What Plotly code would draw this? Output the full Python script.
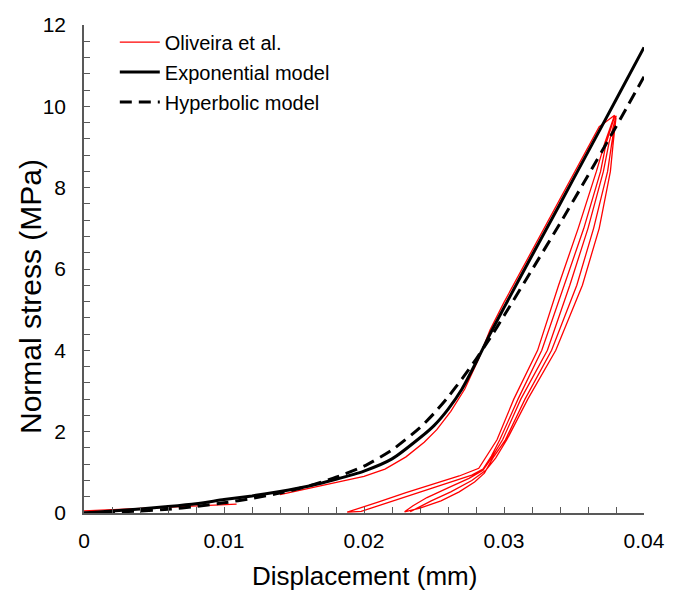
import plotly.graph_objects as go

# ---- data ----
d_model = [0, 0.002, 0.004, 0.006, 0.008, 0.010, 0.012, 0.014, 0.016, 0.018, 0.020, 0.022,
           0.024, 0.025, 0.026, 0.027, 0.028, 0.029, 0.030, 0.032, 0.034, 0.036, 0.038, 0.040]
exp_model = [0, 0.05, 0.10, 0.16, 0.23, 0.33, 0.42, 0.53, 0.66, 0.83, 1.03, 1.33,
             1.85, 2.15, 2.55, 3.05, 3.70, 4.40, 5.05, 6.33, 7.60, 8.88, 10.16, 11.45]
hyp_model = [0, 0.02, 0.05, 0.09, 0.16, 0.25, 0.36, 0.49, 0.66, 0.88, 1.15, 1.55,
             2.10, 2.45, 2.85, 3.30, 3.78, 4.30, 4.85, 5.98, 7.12, 8.30, 9.50, 10.73]

# Oliveira et al. experimental cyclic curve (None = gap in the record)
oliv_d = [0, 0.0109, None,
          # first loading
          0.0140, 0.0165, 0.0185, 0.0200, 0.0215, 0.0230, 0.0243, 0.0252, 0.0262, 0.0272,
          0.0282, 0.0290, 0.0300, 0.0320, 0.0340, 0.0360, 0.0368, 0.0374, 0.0379,
          # unloading 1
          0.0372, 0.0366, 0.0353, 0.0339, 0.0324, 0.0307, 0.0295, 0.0287, 0.0282,
          0.0268, 0.0250, 0.0230, 0.0210, 0.0195, 0.0188,
          # reloading 1
          0.0198, 0.0220, 0.0245, 0.0265, 0.0277, 0.0285, 0.0291, 0.0297, 0.0310, 0.0327,
          0.0343, 0.0357, 0.0369, 0.0373, 0.0379,
          # unloading 2
          0.0380, 0.0375, 0.0371, 0.0360, 0.0347, 0.0331, 0.0312, 0.0299, 0.0291, 0.0285,
          0.0275, 0.0260, 0.0245, 0.0235, 0.0229,
          # reloading 2
          0.0240, 0.0255, 0.0268, 0.0279, 0.0286, 0.0292, 0.0301, 0.0315, 0.0334, 0.0352,
          0.0364, 0.0374, 0.0377, 0.0380,
          # unloading 3
          0.0378, 0.0376, 0.0368, 0.0356, 0.0337, 0.0317, 0.0302, 0.0294, 0.0287,
          0.0277, 0.0262, 0.0248, 0.0238, 0.0233]
oliv_s = [0.05, 0.22, None,
          0.45, 0.63, 0.78, 0.90, 1.08, 1.38, 1.74, 2.05, 2.50, 3.05,
          3.80, 4.50, 5.18, 6.46, 7.73, 9.00, 9.50, 9.65, 9.78,
          9.10, 8.40, 7.00, 5.60, 4.00, 2.80, 1.80, 1.35, 1.10,
          0.91, 0.72, 0.50, 0.27, 0.10, 0.02,
          0.04, 0.29, 0.57, 0.79, 0.93, 1.08, 1.40, 1.80, 2.80, 4.00,
          5.60, 7.00, 8.40, 9.10, 9.75,
          9.75, 9.10, 8.40, 7.00, 5.60, 4.00, 2.80, 1.80, 1.35, 1.05,
          0.85, 0.62, 0.38, 0.18, 0.03,
          0.12, 0.30, 0.52, 0.76, 0.98, 1.35, 1.80, 2.80, 4.00, 5.60,
          7.00, 8.40, 9.10, 9.72,
          9.10, 8.40, 7.00, 5.60, 4.00, 2.80, 1.80, 1.35, 1.05,
          0.80, 0.52, 0.30, 0.12, 0.03]

x_ticks = [0, 0.01, 0.02, 0.03, 0.04]
x_tick_text = ["0", "0.01", "0.02", "0.03", "0.04"]
y_ticks = [0, 2, 4, 6, 8, 10, 12]

FONT = "Arial, 'Liberation Sans', Helvetica, sans-serif"
AXIS_COLOR = "#595959"

fig = go.Figure()
fig.add_trace(go.Scatter(x=oliv_d, y=oliv_s, mode="lines", name="Oliveira et al.",
                         line=dict(color="#ff0000", width=1.3), connectgaps=False,
                         legendgroup="a"))
fig.add_trace(go.Scatter(x=d_model, y=exp_model, mode="lines", name="Exponential model",
                         line=dict(color="black", width=3, shape="spline", smoothing=0.6),
                         legendgroup="b"))
fig.add_trace(go.Scatter(x=d_model, y=hyp_model, mode="lines", name="Hyperbolic model",
                         line=dict(color="black", width=3, dash="12px,7px", shape="spline",
                                   smoothing=0.6),
                         legendgroup="c"))

fig.update_layout(
    width=681, height=592,
    margin=dict(l=84, r=37, t=25, b=79, autoexpand=False),
    paper_bgcolor="white", plot_bgcolor="white",
    font=dict(family=FONT, color="black"),
    showlegend=True,
    legend=dict(x=0.055, y=1.005, xanchor="left", yanchor="top",
                bgcolor="rgba(0,0,0,0)", font=dict(size=20, family=FONT),
                tracegroupgap=1, itemwidth=40),
    xaxis=dict(range=[0, 0.04], tickvals=x_ticks, ticktext=x_tick_text, automargin=False,
               showgrid=False, zeroline=False, showline=True, linecolor=AXIS_COLOR,
               linewidth=1.5, ticks="inside", ticklen=6, tickcolor=AXIS_COLOR, tickwidth=1.2,
               minor=dict(dtick=0.002, ticks="inside", ticklen=6, tickcolor=AXIS_COLOR,
                          tickwidth=1.2, showgrid=False),
               ticklabelstandoff=8,
               tickfont=dict(size=21, family=FONT, color="black")),
    yaxis=dict(range=[0, 12], tickvals=y_ticks, automargin=False,
               showgrid=False, zeroline=False, showline=True, linecolor=AXIS_COLOR,
               linewidth=1.5, ticks="inside", ticklen=6, tickcolor=AXIS_COLOR, tickwidth=1.2,
               minor=dict(dtick=0.4, ticks="inside", ticklen=6, tickcolor=AXIS_COLOR,
                          tickwidth=1.2, showgrid=False),
               ticklabelstandoff=12,
               tickfont=dict(size=21, family=FONT, color="black")),
    annotations=[
        dict(text="Normal stress (MPa)", textangle=-90, showarrow=False,
             xref="paper", yref="paper", x=-0.0964, y=0.4426,
             xanchor="center", yanchor="middle",
             font=dict(size=30, family=FONT, color="black")),
        dict(text="Displacement (mm)", showarrow=False,
             xref="paper", yref="paper", x=0.5, y=-0.129,
             xanchor="center", yanchor="middle",
             font=dict(size=26, family=FONT, color="black")),
    ],
)

fig.write_html("out.html")
